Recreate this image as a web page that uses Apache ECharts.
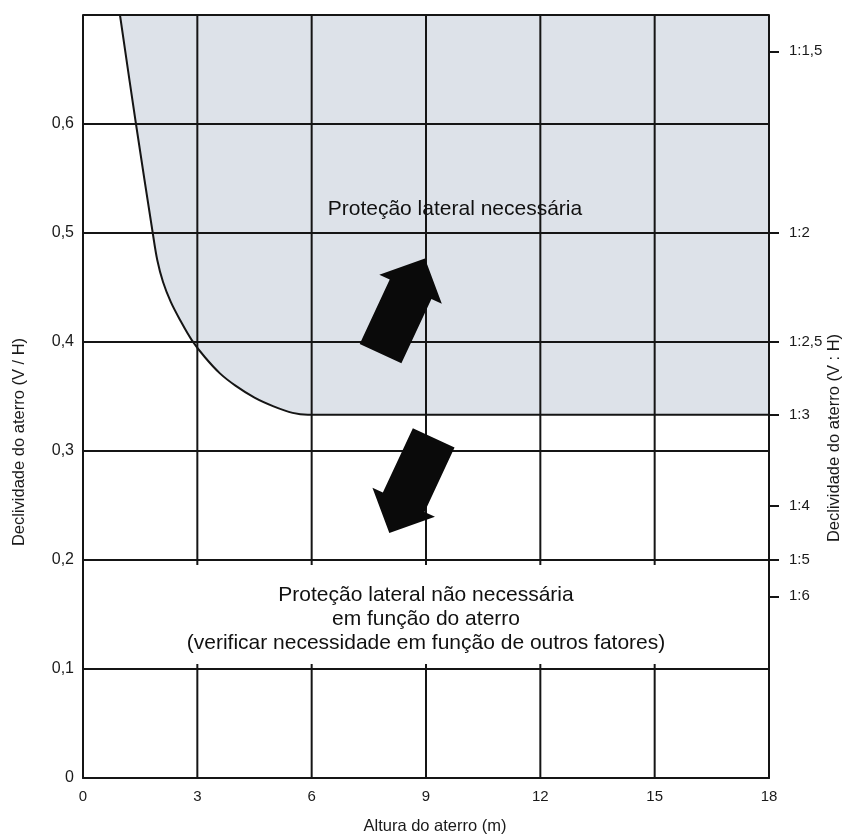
<!DOCTYPE html>
<html><head><meta charset="utf-8">
<script src="https://cdn.jsdelivr.net/npm/echarts@6/dist/echarts.min.js"></script>
<style>html,body{margin:0;padding:0;background:#fff;overflow:hidden}#c{width:845px;height:836px}</style>
</head><body><div id="c"></div>
<script>
// Boundary curve (altura do aterro, declividade V/H)
const curveX = [0.97, 1.39, 1.83, 1.95, 2.10, 2.30, 2.55, 2.85, 3.2, 3.6, 4.0, 4.5, 5.0, 5.5, 5.9, 7.0, 18];
const curveY = [0.700, 0.600, 0.500, 0.475, 0.455, 0.437, 0.420, 0.402, 0.386, 0.371, 0.360, 0.349, 0.341, 0.335, 0.3333, 0.3333, 0.3333];
// Vertical grid lines (interrupted in the text band)
const gridX = [3, 6, 9, 12, 15];
const gridGapLow = 0.1046, gridGapHigh = 0.1954, yTop = 0.7;
// Tick labels
const leftTickValues = [0, 0.1, 0.2, 0.3, 0.4, 0.5, 0.6];
const leftTickLabels = ['0', '0,1', '0,2', '0,3', '0,4', '0,5', '0,6'];
const rightTickValues = [2/3, 0.5, 0.4, 1/3, 0.25, 0.2, 1/6];
const rightTickLabels = ['1:1,5', '1:2', '1:2,5', '1:3', '1:4', '1:5', '1:6'];
// Annotations
const textX = [9.76, 9.0];
const textY = [0.522, 0.146];
const textLabels = ['Proteção lateral necessária', 'Proteção lateral não necessária\nem função do aterro\n(verificar necessidade em função de outros fatores)'];
const arrowX = [8.39, 8.62];
const arrowY = [0.433, 0.2684];
const arrowAngle = [-25, 155];

const FONT = '"Liberation Sans", Arial, sans-serif';
const INK = '#151515';

function lookup(vals, labels, v) {
  for (let i = 0; i < vals.length; i++) if (Math.abs(vals[i] - v) < 1e-4) return labels[i];
  return '';
}

const series = [];
series.push({
  type: 'line', data: curveX.map((x, i) => [x, curveY[i]]), smooth: 0.35,
  symbol: 'none', lineStyle: { color: INK, width: 2 },
  areaStyle: { origin: 'end', color: '#dde2e9', opacity: 1 }, z: 1, silent: true
});
gridX.forEach(x => {
  [[0, gridGapLow], [gridGapHigh, yTop]].forEach(seg => {
    series.push({
      type: 'line', data: [[x, seg[0]], [x, seg[1]]], symbol: 'none',
      lineStyle: { color: INK, width: 2 }, z: 5, silent: true
    });
  });
});
series.push({
  type: 'scatter', symbolSize: 0, z: 10, silent: true,
  itemStyle: { opacity: 1 },
  data: textX.map((x, i) => ({ value: [x, textY[i]], name: textLabels[i] })),
  label: { show: true, position: 'inside', formatter: '{b}', fontFamily: FONT, fontSize: 21, lineHeight: 24, color: '#111', opacity: 1, align: 'center', verticalAlign: 'middle' }
});
series.push({
  type: 'scatter', z: 10, silent: true,
  symbol: 'path://M34.5,0 L69,34 L57.5,34 L57.5,105 L11.5,105 L11.5,34 L0,34 Z',
  symbolSize: [69, 105],
  data: arrowX.map((x, i) => ({ value: [x, arrowY[i]], symbolRotate: arrowAngle[i] })),
  itemStyle: { color: '#0a0a0a', opacity: 1 }
});

const chart = echarts.init(document.getElementById('c'), null, { renderer: 'canvas', width: 845, height: 836 });
chart.setOption({
  animation: false,
  backgroundColor: '#ffffff',
  grid: { left: 83, right: 76, top: 15, bottom: 58, containLabel: false, outerBoundsMode: 'none' },
  xAxis: {
    type: 'value', min: 0, max: 18, interval: 3, z: 4,
    name: 'Altura do aterro (m)', nameLocation: 'middle', nameGap: 40, nameMoveOverlap: false,
    nameTextStyle: { fontFamily: FONT, fontSize: 16.5, color: '#1a1a1a', padding: [0, 0, 0, 18] },
    axisLine: { show: true, lineStyle: { color: INK, width: 2 } },
    axisTick: { show: false },
    splitLine: { show: false },
    axisLabel: { fontFamily: FONT, fontSize: 15, color: '#1a1a1a', margin: 11 }
  },
  yAxis: [{
    type: 'value', min: 0, max: 0.7, interval: 0.1, position: 'left', z: 4,
    name: 'Declividade do aterro (V / H)', nameLocation: 'middle', nameGap: 55, nameMoveOverlap: false,
    nameTextStyle: { fontFamily: FONT, fontSize: 16.5, color: '#1a1a1a', padding: [0, 91, 0, 0] },
    axisLine: { show: true, lineStyle: { color: INK, width: 2 } },
    axisTick: { show: false },
    splitLine: { show: true, lineStyle: { color: INK, width: 2 } },
    axisLabel: { fontFamily: FONT, fontSize: 16, color: '#1a1a1a', margin: 9,
      formatter: v => lookup(leftTickValues, leftTickLabels, v) }
  }, {
    type: 'value', min: 0, max: 0.7, position: 'right', z: 4,
    name: 'Declividade do aterro (V : H)', nameLocation: 'middle', nameGap: 57, nameMoveOverlap: false,
    nameTextStyle: { fontFamily: FONT, fontSize: 16.5, color: '#1a1a1a', padding: [0, 83, 0, 0] },
    axisLine: { show: true, lineStyle: { color: INK, width: 2 } },
    axisTick: { show: true, inside: false, length: 10, customValues: rightTickValues, lineStyle: { color: INK, width: 2 } },
    splitLine: { show: false },
    axisLabel: { fontFamily: FONT, fontSize: 15, color: '#1a1a1a', margin: 20, customValues: rightTickValues,
      formatter: v => lookup(rightTickValues, rightTickLabels, v) }
  }],
  series: series
});
</script>
</body></html>
